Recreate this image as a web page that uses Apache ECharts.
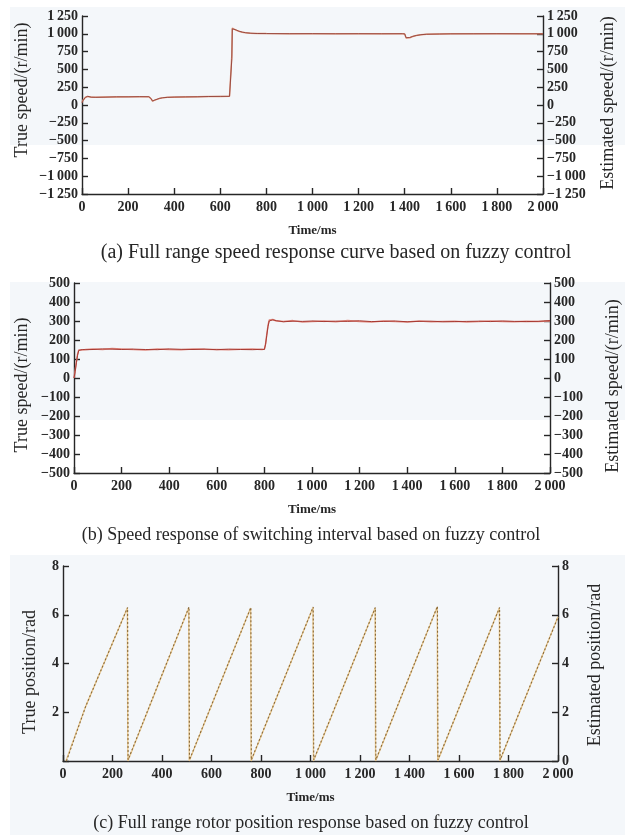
<!DOCTYPE html>
<html><head><meta charset="utf-8">
<script src="https://cdn.jsdelivr.net/npm/echarts@6/dist/echarts.min.js"></script>
<style>html,body{margin:0;padding:0;background:#fff}#c{width:625px;height:835px}</style>
</head><body><div id="c"></div>
<script>
// ---- Panel (a): full range speed response ----
var aTime = [0,5,10,15,20,25,30,40,60,100,150,200,250,290,297,300,303,306,310,316,324,335,350,370,400,450,500,550,600,640,648,650,652,655,660,668,680,695,710,730,760,800,900,1000,1100,1200,1300,1390,1400,1403,1406,1409,1414,1422,1435,1450,1470,1495,1550,1600,1700,1800,1900,2000];
var aTrue = [40,70,95,110,122,118,112,108,110,112,113,115,116,117,112,85,60,55,58,68,78,90,100,108,110,113,116,118,120,122,123,700,1080,1078,1068,1052,1035,1022,1014,1008,1005,1003,1002,1001,1002,1000,1001,1000,998,975,940,925,930,945,962,975,986,993,998,1000,1001,1000,1001,1000];
var aEst  = [30,65,90,108,120,122,115,110,108,110,115,114,117,116,114,90,65,55,60,70,80,92,102,107,112,114,115,119,121,122,124,650,1070,1080,1072,1055,1038,1024,1015,1009,1004,1003,1001,1002,1000,1001,1000,1001,999,980,945,928,932,948,964,976,987,994,997,999,1000,1001,1000,1000];
var aTicks = [-1250,-1000,-750,-500,-250,0,250,500,750,1000,1250];

// ---- Panel (b): switching interval speed response ----
var bTime = [0,5,10,15,20,25,35,50,80,120,160,200,250,300,350,400,450,500,550,600,650,700,750,790,800,805,810,815,820,825,835,850,880,920,960,1000,1050,1100,1150,1200,1250,1300,1350,1400,1450,1500,1550,1600,1650,1700,1750,1800,1850,1900,1950,2000];
var bTrue = [0,40,85,125,148,150,148,150,152,150,155,153,150,148,152,150,149,153,151,150,149,151,152,150,152,180,230,275,305,312,308,300,298,302,295,297,300,296,302,298,295,300,297,295,300,296,298,299,295,297,300,298,296,299,297,300];
var bEst  = [0,35,80,120,145,152,150,149,150,153,152,150,152,150,149,153,151,150,152,149,152,150,149,151,150,178,225,270,300,310,306,302,296,299,298,300,297,299,298,301,297,298,300,296,298,299,296,297,298,299,297,300,298,297,298,302];
var bTicks = [-500,-400,-300,-200,-100,0,100,200,300,400,500];

// ---- Panel (c): rotor position response ----
var cTime = [12,90,260,262,508,510,758,760,1010,1012,1261,1263,1512,1514,1763,1765,2000];
var cTrue = [0,2.2,6.28,0,6.28,0,6.28,0,6.3,0,6.28,0,6.32,0,6.28,0,5.92];
var cEst  = [14,92,261,263,509,511,759,761,1011,1013,1262,1264,1513,1515,1764,1766,2000];
var cEstV = [0,2.25,6.3,0.05,6.32,0.05,6.3,0.05,6.32,0.05,6.3,0.05,6.35,0.05,6.3,0.05,5.9];
var cTicks = [0,2,4,6,8];

var timeTicks = [0,200,400,600,800,1000,1200,1400,1600,1800,2000];

var captions = [
  '(a) Full range speed response curve based on fuzzy control',
  '(b) Speed response of switching interval based on fuzzy control',
  '(c) Full range rotor position response based on fuzzy control'
];
var leftTitles = ['True speed/(r/min)', 'True speed/(r/min)', 'True position/rad'];
var rightTitles = ['Estimated speed/(r/min)', 'Estimated speed/(r/min)', 'Estimated position/rad'];

function zip(t, v){ return t.map(function(x,i){ return [x, v[i]]; }); }
function fmt(v){
  var s = String(Math.abs(v));
  if (s.length > 3) s = s.slice(0, -3) + '\u2009' + s.slice(-3);
  return (v < 0 ? '\u2212' : '') + s;
}
var FONT = "'Liberation Serif','Times New Roman',serif";
var INK = '#262626';

function xAxisDef(gi){
  return {
    type:'value', gridIndex:gi, min:timeTicks[0], max:timeTicks[timeTicks.length-1], interval:200,
    name:'Time/ms', nameLocation:'middle', nameGap:30,
    nameTextStyle:{fontFamily:FONT, fontSize:13, color:INK, fontWeight:'bold'},
    axisLine:{show:true, onZero:false, lineStyle:{color:INK, width:1.4}},
    axisTick:{show:true, inside:true, length:6, lineStyle:{color:INK, width:1.4}},
    axisLabel:{fontFamily:FONT, fontSize:14, fontWeight:'bold', color:INK, margin:6, formatter:fmt},
    splitLine:{show:false}
  };
}
function yAxisDef(gi, pos, ticks, hideZero){
  var iv = ticks[1]-ticks[0];
  return {
    type:'value', gridIndex:gi, position:pos, min:ticks[0], max:ticks[ticks.length-1], interval:iv,
    axisLine:{show:true, onZero:false, lineStyle:{color:INK, width:1.4}},
    axisTick:{show:true, inside:true, length:6, lineStyle:{color:INK, width:1.4}},
    axisLabel:{fontFamily:FONT, fontSize:14, fontWeight:'bold', color:INK, margin:4,
      formatter:function(v){ if(hideZero && v===0) return ''; return fmt(v); }},
    splitLine:{show:false}
  };
}
function vtext(txt, x, y){
  return {type:'text', x:x, y:y, rotation:Math.PI/2, silent:true,
    style:{text:txt, font:"18px "+FONT, fill:INK, align:'center', verticalAlign:'middle'}};
}
function ctext(txt, x, y, size){
  return {type:'text', x:x, y:y, silent:true,
    style:{text:txt, font:size+"px "+FONT, fill:INK, align:'center', verticalAlign:'middle'}};
}

var chart = echarts.init(document.getElementById('c'), null, {renderer:'canvas'});
var option = {
  animation:false,
  backgroundColor:'#ffffff',
  graphic:[
    {type:'rect', z:-10, silent:true, shape:{x:10,y:7,width:615,height:138}, style:{fill:'#f4f7fa'}},
    {type:'rect', z:-10, silent:true, shape:{x:10,y:282,width:615,height:138}, style:{fill:'#f4f7fa'}},
    {type:'rect', z:-10, silent:true, shape:{x:10,y:555,width:615,height:280}, style:{fill:'#f4f7fa'}},
    vtext(leftTitles[0], 22, 90), vtext(rightTitles[0], 608, 103),
    vtext(leftTitles[1], 22, 385), vtext(rightTitles[1], 613, 386),
    vtext(leftTitles[2], 30, 672), vtext(rightTitles[2], 595, 665),
    ctext(captions[0], 336, 253, 20),
    ctext(captions[1], 311, 535, 18),
    ctext(captions[2], 311, 823, 18)
  ],
  grid:[
    {left:82, top:16, width:461, height:178},
    {left:74, top:283, width:476, height:190},
    {left:63, top:566, width:495, height:195}
  ],
  xAxis:[xAxisDef(0), xAxisDef(1), xAxisDef(2)],
  yAxis:[
    yAxisDef(0,'left',aTicks,false),
    yAxisDef(0,'right',aTicks,false),
    yAxisDef(1,'left',bTicks,false),
    yAxisDef(1,'right',bTicks,false),
    yAxisDef(2,'left',cTicks,true),
    yAxisDef(2,'right',cTicks,false)
  ],
  series:[
    {name:'True speed', type:'line', xAxisIndex:0, yAxisIndex:0, data:zip(aTime,aTrue), showSymbol:false, lineStyle:{color:'#e09a80', width:1.5}},
    {name:'Estimated speed', type:'line', xAxisIndex:0, yAxisIndex:1, data:zip(aTime,aEst), showSymbol:false, lineStyle:{color:'#9a4a40', width:1}},
    {name:'True speed', type:'line', xAxisIndex:1, yAxisIndex:2, data:zip(bTime,bTrue), showSymbol:false, lineStyle:{color:'#e08a80', width:1.5}},
    {name:'Estimated speed', type:'line', xAxisIndex:1, yAxisIndex:3, data:zip(bTime,bEst), showSymbol:false, lineStyle:{color:'#a83a32', width:1}},
    {name:'True position', type:'line', xAxisIndex:2, yAxisIndex:4, data:zip(cTime,cTrue), showSymbol:false, lineStyle:{color:'#e8c890', width:1.4}},
    {name:'Estimated position', type:'line', xAxisIndex:2, yAxisIndex:5, data:zip(cEst,cEstV), showSymbol:false, lineStyle:{color:'#8a6a3a', width:1.1, type:[2,2]}}
  ]
};
chart.setOption(option);
</script></body></html>
